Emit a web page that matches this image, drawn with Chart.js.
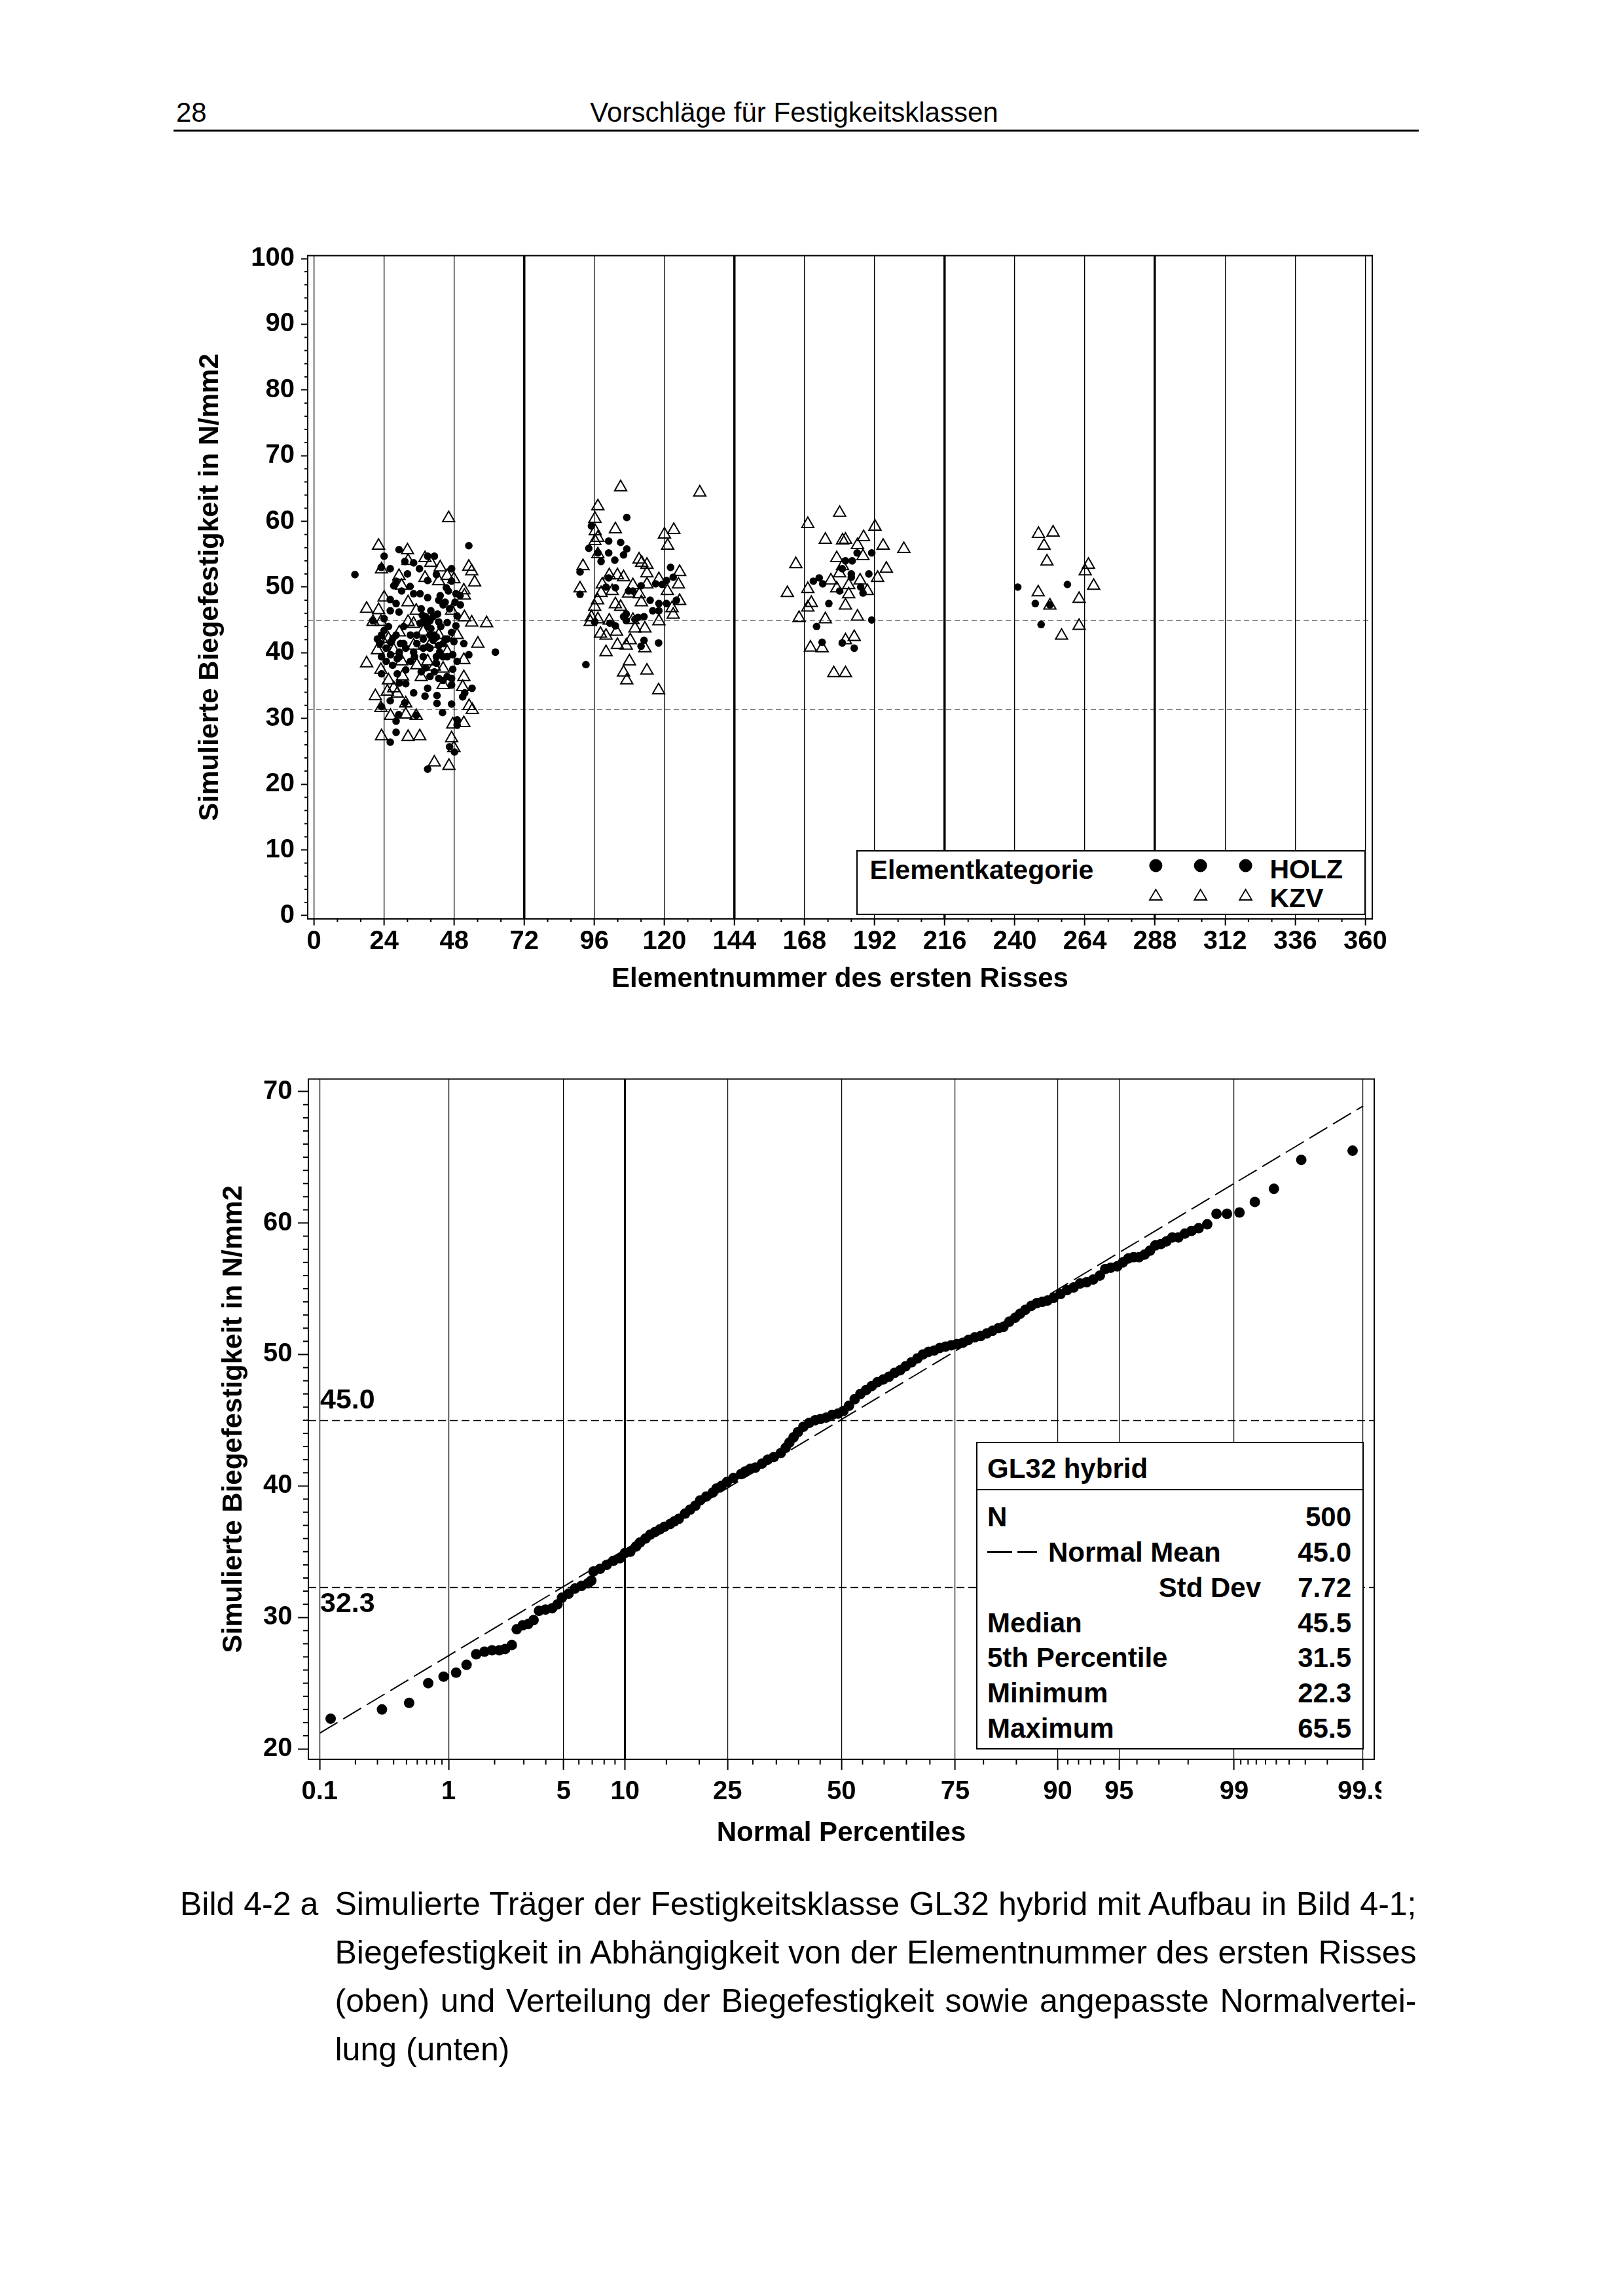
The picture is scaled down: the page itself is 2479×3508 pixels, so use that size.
<!DOCTYPE html>
<html>
<head>
<meta charset="utf-8">
<title>Bild 4-2 a</title>
<script src="https://cdn.jsdelivr.net/npm/chart.js@4.4.1/dist/chart.umd.min.js"></script>
<style>
html, body { margin: 0; padding: 0; background: #fff; }
body { width: 2479px; height: 3508px; position: relative; overflow: hidden; font-family: "Liberation Sans", Arial, sans-serif; color: #000; }
.abs { position: absolute; }
canvas { position: absolute; }
.hdr { position: absolute; font-size: 42px; line-height: 42px; white-space: nowrap; }
.cap { position: absolute; font-size: 50px; line-height: 74px; white-space: nowrap; }
.just { text-align: justify; text-align-last: justify; }
.b41 { position: absolute; font-size: 41px; line-height: 41px; font-weight: bold; white-space: nowrap; }
.b42 { position: absolute; font-size: 42px; line-height: 42px; font-weight: bold; white-space: nowrap; }
.box { position: absolute; border: 2px solid #000; box-sizing: border-box; background: #fff; }
</style>
</head>
<body>

<div class="hdr" style="left:269px; top:150.5px;">28</div>
<div class="hdr" style="left:713px; top:150.5px; width:1000px; text-align:center;">Vorschläge für Festigkeitsklassen</div>
<div class="abs" style="left:265px; top:197.5px; width:1902px; height:3px; background:#000;"></div>

<canvas id="chart-top" width="2479" height="1260" style="left:0; top:300px; width:2479px; height:1260px;"></canvas>
<canvas id="chart-bottom" width="2110" height="1260" style="left:0; top:1580px; width:2110px; height:1260px;"></canvas>

<!-- legend of the upper chart -->
<div class="box" style="left:1308px; top:1299px; width:778px; height:99px;"></div>
<div class="b41" style="left:1328.6px; top:1308.6px;">Elementkategorie</div>
<svg class="abs" style="left:1740px; top:1300px;" width="190" height="90">
  <circle cx="25.4" cy="22.5" r="10" fill="#000"/>
  <circle cx="93.7" cy="22.5" r="10" fill="#000"/>
  <circle cx="162.6" cy="22.5" r="10" fill="#000"/>
  <polygon points="25.4,59 15.9,75 34.9,75" fill="none" stroke="#000" stroke-width="1.8"/>
  <polygon points="93.7,59 84.2,75 103.2,75" fill="none" stroke="#000" stroke-width="1.8"/>
  <polygon points="162.6,59 153.1,75 172.1,75" fill="none" stroke="#000" stroke-width="1.8"/>
</svg>
<div class="b41" style="left:1939.5px; top:1308px;">HOLZ</div>
<div class="b41" style="left:1939.5px; top:1351.5px;">KZV</div>

<!-- statistics box of the lower chart -->
<div class="box" style="left:1491px; top:2203px; width:592px; height:470px;"></div>
<div class="abs" style="left:1491px; top:2275px; width:592px; height:2px; background:#000;"></div>
<div class="b42" style="left:1508px; top:2222.8px;">GL32 hybrid</div>
<svg class="abs" style="left:1500px; top:2360px;" width="100" height="24">
  <line x1="8" y1="11.6" x2="84" y2="11.6" stroke="#000" stroke-width="3" stroke-dasharray="38 8"/>
</svg>
<div id="stats"></div>

<!-- caption -->
<div class="cap" style="left:275px; top:2871.5px;">Bild 4-2 a</div>
<div class="cap just" style="left:511.5px; top:2871.5px; width:1652px;">Simulierte Träger der Festigkeitsklasse GL32 hybrid mit Aufbau in Bild 4-1;</div>
<div class="cap just" style="left:511.5px; top:2945.5px; width:1652px;">Biegefestigkeit in Abhängigkeit von der Elementnummer des ersten Risses</div>
<div class="cap just" style="left:511.5px; top:3019.5px; width:1652px;">(oben) und Verteilung der Biegefestigkeit sowie angepasste Normalvertei-</div>
<div class="cap" style="left:511.5px; top:3093.5px;">lung (unten)</div>

<script>
const FONT = '"Liberation Sans", Arial, sans-serif'

// ---- upper chart: strength against element number of first crack ----
const elementTicks = [0, 24, 48, 72, 96, 120, 144, 168, 192, 216, 240, 264, 288, 312, 336, 360]
const strengthTicksTop = [0, 10, 20, 30, 40, 50, 60, 70, 80, 90, 100]
const refLinesTop = [45.0, 31.5]

// HOLZ = filled dots, [element number, strength]
const holzPoints = [
    [14.0, 51.9], [53.0, 56.3], [29.1, 55.7], [24.0, 54.7], [38.9, 54.7], [41.2, 54.7], [31.1, 53.9], [34.1, 53.7],
    [23.0, 53.0], [26.1, 52.8], [36.1, 52.8], [47.1, 52.8], [32.0, 52.0], [41.9, 51.9], [38.9, 51.0], [28.1, 50.9],
    [27.3, 50.2], [32.9, 50.1], [47.1, 50.9], [45.3, 49.9], [30.0, 49.4], [34.1, 49.0], [36.3, 49.0], [43.2, 48.7],
    [50.0, 48.7], [26.1, 48.1], [38.9, 48.4], [28.1, 47.5], [48.3, 47.7], [50.1, 47.3], [44.2, 47.3], [40.0, 46.4],
    [26.1, 46.4], [29.1, 46.2], [37.1, 45.7], [42.3, 45.9], [49.0, 45.6], [20.1, 44.9], [24.0, 45.2], [37.4, 44.7],
    [45.6, 44.6], [40.0, 43.7], [43.4, 44.0], [23.1, 42.7], [28.1, 42.7], [47.1, 43.1], [37.4, 42.1], [40.8, 41.9],
    [21.7, 42.1], [51.3, 41.4], [30.7, 41.4], [26.2, 41.6], [38.9, 40.9], [42.7, 41.1], [34.1, 40.1], [29.2, 40.1],
    [62.1, 40.1], [53.0, 39.7], [23.1, 39.4], [44.2, 39.4], [49.0, 38.7], [26.9, 38.1], [38.2, 37.7], [47.5, 37.5],
    [23.1, 36.8], [39.7, 36.4], [42.7, 36.1], [45.6, 36.4], [31.4, 35.3], [47.1, 35.1], [54.1, 34.6], [38.9, 34.6],
    [34.1, 33.9], [51.6, 33.9], [38.0, 33.4], [42.1, 33.5], [50.9, 33.3], [26.1, 32.7], [31.1, 32.4], [42.1, 32.3],
    [47.1, 32.2], [23.1, 31.8], [44.0, 30.9], [29.0, 30.6], [35.0, 30.5], [28.1, 29.6], [49.0, 29.8], [49.0, 29.0],
    [28.1, 27.9], [26.1, 26.4], [46.4, 25.7], [48.1, 24.9], [38.9, 22.3], [29.2, 35.4], [25.5, 44.0], [30.7, 44.0],
    [35.2, 42.7], [41.2, 42.7], [44.9, 42.1], [24.7, 40.7], [28.5, 39.1], [33.0, 38.7], [37.4, 39.4], [41.9, 38.4],
    [45.6, 39.4], [47.9, 41.7], [42.7, 44.7], [36.7, 46.7], [46.4, 46.7], [42.7, 48.0],
    [38.2, 45.5], [39.7, 44.9], [36.3, 44.5], [38.9, 44.0], [41.9, 42.4], [44.2, 41.4], [39.7, 40.7], [45.6, 42.1],
    [43.0, 40.1], [27.0, 42.2], [29.6, 41.4], [31.4, 40.7], [26.2, 39.7], [29.2, 39.4], [24.7, 38.7], [36.7, 37.1],
    [41.2, 37.1], [44.2, 35.8], [47.1, 36.1], [46.0, 49.4], [48.6, 49.0], [44.9, 47.7], [40.8, 45.5], [33.0, 42.7],
    [37.4, 40.7], [34.4, 39.4], [41.9, 39.4], [31.4, 37.4], [28.5, 36.8], [24.0, 43.4], [22.5, 41.4], [47.5, 39.7],
    [48.6, 44.1], [35.2, 41.4], [39.7, 42.7],
    [107.1, 60.6], [95.0, 59.3], [100.9, 57.0], [105.0, 56.8], [107.1, 55.8], [94.1, 55.9], [100.9, 55.2], [106.0, 54.9],
    [97.2, 55.2], [98.3, 53.9], [103.0, 54.1], [122.1, 53.0], [91.1, 52.3], [100.9, 51.4], [123.0, 51.5], [120.7, 51.0],
    [117.0, 50.5], [119.2, 50.4], [100.0, 50.0], [103.2, 49.9], [112.0, 50.2], [107.7, 49.4], [109.2, 49.4], [91.1, 48.9],
    [124.1, 48.0], [115.1, 48.0], [118.1, 47.5], [120.7, 47.5], [116.0, 46.4], [118.1, 46.4], [106.9, 45.9], [106.0, 45.5],
    [111.0, 45.4], [113.0, 45.5], [109.9, 45.1], [106.9, 44.9], [96.1, 44.7], [101.3, 44.5], [103.2, 44.1], [113.0, 41.9],
    [112.0, 41.0], [118.0, 41.5], [93.1, 38.2],
    [186.0, 55.2], [191.0, 55.2], [182.0, 54.0], [184.3, 54.0], [180.9, 52.8], [184.0, 52.0], [190.0, 52.0], [173.0, 51.4],
    [171.0, 50.9], [174.2, 50.5], [184.0, 51.5], [187.2, 50.0], [188.0, 49.1], [180.0, 49.4], [176.3, 47.5], [191.0, 45.0],
    [172.1, 44.0], [174.0, 41.6], [180.9, 41.5], [185.0, 40.7],
    [241.0, 50.0], [258.0, 50.4], [247.0, 47.5], [252.0, 47.3], [249.0, 44.3]
]

// KZV = open triangles, [element number, strength]
const kzvPoints = [
    [46.1, 60.5], [22.1, 56.3], [32.0, 55.6], [38.0, 54.4], [40.0, 53.7], [32.2, 54.0], [43.2, 53.0], [23.1, 52.7],
    [53.0, 53.1], [54.0, 52.4], [29.1, 51.7], [38.0, 51.4], [45.6, 51.7], [47.9, 51.2], [55.0, 50.7], [42.7, 50.9],
    [30.0, 50.2], [51.3, 49.5], [51.5, 48.7], [24.0, 48.4], [32.2, 47.7], [18.0, 46.7], [22.1, 46.5], [35.0, 46.4],
    [47.1, 46.4], [51.5, 45.4], [54.0, 44.6], [59.1, 44.5], [20.2, 44.7], [22.9, 44.7], [32.2, 44.7], [34.1, 44.4],
    [29.2, 43.1], [37.4, 43.2], [49.0, 42.7], [56.1, 41.4], [24.0, 41.4], [21.7, 40.4], [27.3, 40.4], [34.1, 41.1],
    [40.0, 41.4], [45.6, 40.1], [18.0, 38.4], [22.9, 37.4], [35.2, 38.1], [38.9, 38.7], [41.2, 37.9], [51.3, 38.9],
    [25.5, 35.8], [30.3, 36.4], [36.7, 36.3], [51.3, 36.3], [27.3, 34.6], [50.9, 34.8], [21.0, 33.4], [25.1, 34.1],
    [44.2, 35.1], [31.4, 32.3], [53.1, 31.9], [22.9, 31.6], [54.2, 31.3], [26.2, 30.4], [31.4, 30.6], [35.0, 30.4],
    [47.5, 29.1], [51.3, 29.3], [23.1, 27.3], [32.2, 27.2], [36.2, 27.3], [47.1, 27.0], [47.9, 25.5], [41.2, 23.3],
    [46.2, 22.8], [28.5, 33.8], [42.7, 42.7], [44.2, 37.6], [25.5, 42.1], [30.0, 38.7],
    [105.0, 65.2], [132.1, 64.4], [97.2, 62.3], [96.2, 60.4], [103.2, 58.8], [96.3, 58.5], [97.2, 57.5], [96.2, 57.0],
    [120.0, 58.0], [123.2, 58.7], [121.1, 56.3], [97.2, 55.0], [111.3, 54.2], [112.2, 53.7], [114.0, 53.4], [92.1, 53.2],
    [114.0, 52.1], [125.2, 52.3], [101.1, 51.8], [103.9, 51.8], [106.0, 51.5], [118.1, 51.2], [124.8, 50.4], [109.2, 50.3],
    [98.7, 50.4], [91.1, 49.8], [114.0, 50.4], [121.0, 49.4], [98.3, 49.1], [102.1, 49.4], [107.7, 49.0], [111.4, 48.9],
    [125.2, 47.9], [97.1, 48.0], [96.1, 47.0], [103.2, 47.4], [105.0, 47.0], [112.1, 47.7], [122.6, 46.8], [123.0, 45.8],
    [95.0, 45.4], [97.2, 45.1], [94.6, 44.7], [101.1, 44.9], [118.1, 44.8], [109.2, 45.0], [109.9, 43.7], [113.3, 43.7],
    [103.6, 43.2], [98.1, 42.9], [100.0, 42.6], [108.3, 41.9], [103.9, 41.2], [113.3, 40.7], [100.0, 40.1], [106.9, 41.1],
    [108.0, 38.7], [114.0, 37.3], [106.0, 37.0], [107.1, 35.8], [118.0, 34.3],
    [180.0, 61.3], [169.1, 59.6], [192.1, 59.2], [175.1, 57.2], [181.0, 57.1], [182.0, 57.2], [188.2, 57.6], [186.1, 56.4],
    [194.9, 56.3], [202.0, 55.8], [179.0, 54.4], [188.0, 54.7], [165.0, 53.5], [181.0, 53.2], [196.0, 52.8], [180.0, 52.1],
    [177.0, 51.0], [187.0, 51.0], [193.0, 51.4], [183.1, 50.3], [179.0, 49.8], [189.5, 49.4], [162.1, 49.1], [169.1, 49.7],
    [183.1, 48.9], [170.3, 47.6], [169.1, 46.9], [182.0, 47.2], [166.1, 45.3], [175.1, 45.1], [186.1, 45.5], [185.0, 42.4],
    [182.0, 41.9], [170.0, 40.8], [174.0, 40.7], [178.0, 36.9], [182.0, 36.9],
    [248.1, 58.1], [253.1, 58.3], [250.0, 56.3], [251.0, 53.9], [265.2, 53.4], [264.1, 52.4], [267.0, 50.2], [248.0, 49.2],
    [262.0, 48.2], [252.0, 47.2], [262.0, 44.1], [256.0, 42.6]
]

// ---- lower chart: normal probability plot ----
const percentileTicks = [0.1, 1, 5, 10, 25, 50, 75, 90, 95, 99, 99.9]
const percentileLabels = ['0.1', '1', '5', '10', '25', '50', '75', '90', '95', '99', '99.9']
const percentileMinor = [0.2, 0.3, 0.4, 0.5, 0.6, 0.7, 0.8, 0.9, 2, 3, 4, 6, 7, 8, 9, 15, 20, 30, 35, 40, 45,
    55, 60, 65, 70, 80, 85, 91, 92, 93, 94, 96, 97, 98, 99.1, 99.2, 99.3, 99.4, 99.5, 99.6, 99.7, 99.8]
const strengthTicksBottom = [20, 30, 40, 50, 60, 70]
const refLinesBottom = [45.0, 32.3]

// [normal score (quantile of the plotting position), strength]
const probabilityPoints = [
    [-3.025, 22.3], [-2.721, 23.0], [-2.560, 23.5], [-2.447, 25.0], [-2.356, 25.5], [-2.282, 25.8], [-2.220, 26.4],
    [-2.163, 27.2], [-2.114, 27.4], [-2.069, 27.5], [-2.026, 27.5], [-1.991, 27.6], [-1.952, 27.9], [-1.923, 29.1],
    [-1.888, 29.4], [-1.855, 29.5], [-1.823, 29.8], [-1.791, 30.5], [-1.752, 30.6], [-1.713, 30.7], [-1.681, 31.0],
    [-1.655, 31.5], [-1.616, 31.8], [-1.578, 32.2], [-1.539, 32.4], [-1.500, 32.6], [-1.481, 32.8], [-1.468, 33.5],
    [-1.429, 33.7], [-1.390, 34.0], [-1.351, 34.3], [-1.312, 34.5], [-1.282, 34.9], [-1.250, 35.0], [-1.216, 35.4],
    [-1.193, 35.7], [-1.160, 36.0], [-1.132, 36.3], [-1.104, 36.5], [-1.075, 36.7], [-1.048, 36.9], [-1.015, 37.1],
    [-0.990, 37.3], [-0.963, 37.5], [-0.926, 37.9], [-0.896, 38.2], [-0.865, 38.5], [-0.837, 38.9], [-0.800, 39.2],
    [-0.762, 39.5], [-0.740, 39.8], [-0.710, 40.0], [-0.678, 40.3], [-0.640, 40.6], [-0.594, 40.9], [-0.570, 41.1],
    [-0.540, 41.3], [-0.509, 41.4], [-0.470, 41.7], [-0.436, 42.0], [-0.400, 42.2], [-0.359, 42.5], [-0.330, 42.9],
    [-0.308, 43.3], [-0.283, 43.7], [-0.257, 44.1], [-0.225, 44.5], [-0.190, 44.8], [-0.155, 45.0], [-0.123, 45.1],
    [-0.090, 45.2], [-0.055, 45.4], [-0.020, 45.5], [0.012, 45.7], [0.045, 46.1], [0.079, 46.6], [0.113, 47.0],
    [0.147, 47.3], [0.180, 47.6], [0.214, 47.9], [0.248, 48.1], [0.281, 48.3], [0.315, 48.6], [0.348, 48.8],
    [0.380, 49.1], [0.415, 49.4], [0.450, 49.7], [0.483, 50.0], [0.516, 50.2], [0.550, 50.3], [0.583, 50.5],
    [0.617, 50.6], [0.650, 50.7], [0.684, 50.8], [0.720, 50.9], [0.752, 51.1], [0.790, 51.3], [0.825, 51.4],
    [0.861, 51.6], [0.895, 51.8], [0.930, 52.0], [0.960, 52.1], [0.995, 52.5], [1.030, 52.8], [1.059, 53.1],
    [1.090, 53.4], [1.125, 53.7], [1.157, 53.9], [1.190, 54.0], [1.221, 54.1], [1.256, 54.3], [1.298, 54.6],
    [1.337, 54.9], [1.376, 55.1], [1.414, 55.4], [1.453, 55.5], [1.492, 55.7], [1.531, 56.0], [1.563, 56.5],
    [1.595, 56.6], [1.634, 56.7], [1.667, 57.0], [1.699, 57.3], [1.731, 57.4], [1.763, 57.4], [1.796, 57.6],
    [1.828, 57.9], [1.860, 58.3], [1.893, 58.4], [1.925, 58.6], [1.960, 58.9], [1.996, 58.9], [2.035, 59.2],
    [2.074, 59.4], [2.116, 59.6], [2.167, 59.9], [2.222, 60.7], [2.284, 60.7], [2.358, 60.8], [2.449, 61.6],
    [2.562, 62.6], [2.724, 64.8], [3.028, 65.5]
]

// fitted normal line, drawn from the 0.1 to the 99.9 percentile
const fitLinePercent = [0.1, 99.9]
const fitLineStrength = [21.2, 68.9]

const statLabels = ['N', 'Normal Mean', 'Std Dev', 'Median', '5th Percentile', 'Minimum', 'Maximum']
const statValues = ['500', '45.0', '7.72', '45.5', '31.5', '22.3', '65.5']


// Inverse of the standard normal distribution (Acklam), used for the probability axis
function probit (p) {
    const a = [-3.969683028665376e+01, 2.209460984245205e+02, -2.759285104469687e+02, 1.383577518672690e+02, -3.066479806614716e+01, 2.506628277459239e+00]
    const b = [-5.447609879822406e+01, 1.615858368580409e+02, -1.556989798598866e+02, 6.680131188771972e+01, -1.328068155288572e+01]
    const c = [-7.784894002430293e-03, -3.223964580411365e-01, -2.400758277161838e+00, -2.549732539343734e+00, 4.374664141464968e+00, 2.938163982698783e+00]
    const d = [7.784695709041462e-03, 3.224671290700398e-01, 2.445134137142996e+00, 3.754408661907416e+00]
    const pl = 0.02425
    let q, r
    if (p < pl) {
        q = Math.sqrt(-2 * Math.log(p))
        return (((((c[0] * q + c[1]) * q + c[2]) * q + c[3]) * q + c[4]) * q + c[5]) / ((((d[0] * q + d[1]) * q + d[2]) * q + d[3]) * q + 1)
    }
    if (p > 1 - pl) {
        q = Math.sqrt(-2 * Math.log(1 - p))
        return -(((((c[0] * q + c[1]) * q + c[2]) * q + c[3]) * q + c[4]) * q + c[5]) / ((((d[0] * q + d[1]) * q + d[2]) * q + d[3]) * q + 1)
    }
    q = p - 0.5
    r = q * q
    return (((((a[0] * r + a[1]) * r + a[2]) * r + a[3]) * r + a[4]) * r + a[5]) * q / (((((b[0] * r + b[1]) * r + b[2]) * r + b[3]) * r + b[4]) * r + 1)
}

// Draws dashed reference lines, the closed frame and the minor tick marks
const sasFrame = {
    id: 'sasFrame',
    beforeDatasetsDraw (chart, args, opts) {
        const { ctx, chartArea: a, scales } = chart
        ctx.save()
        ctx.strokeStyle = '#000'
        ctx.lineWidth = opts.refWidth
        ctx.setLineDash(opts.refDash)
        opts.refLines.forEach(v => {
            const y = Math.round(scales.y.getPixelForValue(v)) + 0.5
            ctx.beginPath()
            ctx.moveTo(a.left, y)
            ctx.lineTo(a.right, y)
            ctx.stroke()
        })
        ctx.setLineDash([])
        ctx.fillStyle = '#000'
        ctx.font = 'bold 43px ' + FONT
        ctx.textBaseline = 'middle'
        ;(opts.refLabels || []).forEach(l => {
            ctx.fillText(l.text, a.left + 18, scales.y.getPixelForValue(l.value) + l.dy)
        })
        ctx.restore()
    },
    afterDraw (chart, args, opts) {
        const { ctx, chartArea: a, scales } = chart
        ctx.save()
        ctx.strokeStyle = '#000'
        ctx.lineWidth = 2
        ctx.strokeRect(a.left, a.top, a.right - a.left, a.bottom - a.top)
        const xMinor = opts.xMinor || []
        xMinor.forEach(v => {
            const x = scales.x.getPixelForValue(v)
            ctx.beginPath()
            ctx.moveTo(x, a.bottom)
            ctx.lineTo(x, a.bottom + opts.minorLen)
            ctx.stroke()
        })
        const yMinor = opts.yMinor || []
        yMinor.forEach(v => {
            const y = scales.y.getPixelForValue(v)
            ctx.beginPath()
            ctx.moveTo(a.left, y)
            ctx.lineTo(a.left - opts.minorLen, y)
            ctx.stroke()
        })
        ctx.restore()
    }
}

function tickFont (size) {
    return { family: FONT, size: size, weight: 'bold', lineHeight: 1 }
}

// minor ticks between the labelled ticks
function minorBetween (ticks, step) {
    const out = []
    for (let i = 0; i < ticks.length - 1; i++) {
        for (let v = ticks[i] + step; v < ticks[i + 1] - 1e-9; v += step) out.push(v)
    }
    return out
}

// ---- upper chart ----
new Chart(document.getElementById('chart-top'), {
    type: 'scatter',
    data: {
        datasets: [{
            label: 'HOLZ',
            data: holzPoints.map(p => ({ x: p[0], y: p[1] })),
            pointStyle: 'circle',
            pointRadius: 5.8,
            backgroundColor: '#000',
            borderColor: '#000',
            borderWidth: 0
        }, {
            label: 'KZV',
            data: kzvPoints.map(p => ({ x: p[0], y: p[1] })),
            pointStyle: 'triangle',
            pointRadius: 10.6,
            backgroundColor: 'rgba(0,0,0,0)',
            borderColor: '#000',
            borderWidth: 2
        }]
    },
    options: {
        responsive: false,
        animation: false,
        events: [],
        layout: { padding: { left: 0, right: 383, top: 90.6, bottom: 0 } },
        plugins: {
            legend: { display: false },
            tooltip: { enabled: false },
            sasFrame: {
                refLines: refLinesTop, refWidth: 1.2, refDash: [8, 5],
                xMinor: minorBetween(elementTicks, 8),
                yMinor: minorBetween(strengthTicksTop, 2),
                minorLen: 5
            }
        },
        scales: {
            x: {
                type: 'linear',
                min: -2.17,
                max: 362.4,
                afterBuildTicks: s => { s.ticks = elementTicks.map(v => ({ value: v })) },
                afterFit: s => { s.height = 156; s.paddingLeft = 0; s.paddingRight = 0 },
                grid: {
                    color: '#000',
                    lineWidth: c => (c.tick && c.tick.value % 72 === 0 && c.tick.value > 0 && c.tick.value < 360) ? 3.5 : 1.3,
                    drawTicks: true, tickLength: 10, tickWidth: 2, tickColor: '#000'
                },
                border: { display: true, color: '#000', width: 2 },
                ticks: { color: '#000', font: tickFont(40), padding: 5, maxRotation: 0, autoSkip: false, callback: v => String(v) },
                title: { display: true, text: 'Elementnummer des ersten Risses', color: '#000', font: tickFont(42), padding: { top: 0, bottom: 43 } }
            },
            y: {
                type: 'linear',
                min: -0.5,
                max: 100.44,
                afterBuildTicks: s => { s.ticks = strengthTicksTop.map(v => ({ value: v })) },
                afterFit: s => { s.width = 470; s.paddingTop = 0; s.paddingBottom = 0 },
                grid: { drawOnChartArea: false, color: '#000', drawTicks: true, tickLength: 10, tickWidth: 2, tickColor: '#000' },
                border: { display: true, color: '#000', width: 2 },
                ticks: { color: '#000', font: tickFont(40), padding: 10, autoSkip: false, callback: v => String(v) },
                title: { display: true, text: 'Simulierte Biegefestigkeit in N/mm2', color: '#000', font: tickFont(42), padding: { top: 300, bottom: 0 } }
            }
        }
    },
    plugins: [sasFrame]
})

// ---- lower chart ----
new Chart(document.getElementById('chart-bottom'), {
    type: 'scatter',
    data: {
        datasets: [{
            label: 'Normal',
            type: 'line',
            data: fitLinePercent.map((p, i) => ({ x: probit(p / 100), y: fitLineStrength[i] })),
            borderColor: '#000',
            borderWidth: 2,
            borderDash: [32, 10],
            pointRadius: 0,
            fill: false
        }, {
            label: 'Biegefestigkeit',
            data: probabilityPoints.map(p => ({ x: p[0], y: p[1] })),
            pointStyle: 'circle',
            pointRadius: 8,
            backgroundColor: '#000',
            borderColor: '#000',
            borderWidth: 0
        }]
    },
    options: {
        responsive: false,
        animation: false,
        events: [],
        layout: { padding: { left: 0, right: 11, top: 68.6, bottom: 0 } },
        plugins: {
            legend: { display: false },
            tooltip: { enabled: false },
            sasFrame: {
                refLines: refLinesBottom, refWidth: 1.3, refDash: [12, 6],
                refLabels: [{ text: '45.0', value: refLinesBottom[0], dy: -30 }, { text: '32.3', value: refLinesBottom[1], dy: 26 }],
                xMinor: percentileMinor.map(p => probit(p / 100)),
                yMinor: minorBetween(strengthTicksBottom, 1),
                minorLen: 8
            }
        },
        scales: {
            x: {
                type: 'linear',
                min: -3.157,
                max: 3.156,
                afterBuildTicks: s => { s.ticks = percentileTicks.map(p => ({ value: probit(p / 100) })) },
                afterFit: s => { s.height = 152; s.paddingLeft = 0; s.paddingRight = 0 },
                grid: {
                    color: '#000',
                    lineWidth: c => (percentileTicks[c.index] === 10 ? 3 : 1.2),
                    drawTicks: true, tickLength: 16, tickWidth: 2, tickColor: '#000'
                },
                border: { display: true, color: '#000', width: 2 },
                ticks: { color: '#000', font: tickFont(40), padding: 13.5, maxRotation: 0, autoSkip: false, callback: (v, i) => percentileLabels[i] },
                title: { display: true, text: 'Normal Percentiles', color: '#000', font: tickFont(42), padding: { top: 0, bottom: 18 } }
            },
            y: {
                type: 'linear',
                min: 19.21,
                max: 70.95,
                afterBuildTicks: s => { s.ticks = strengthTicksBottom.map(v => ({ value: v })) },
                afterFit: s => { s.width = 471; s.paddingTop = 0; s.paddingBottom = 0 },
                grid: { drawOnChartArea: false, color: '#000', drawTicks: true, tickLength: 16, tickWidth: 2, tickColor: '#000' },
                border: { display: true, color: '#000', width: 2 },
                ticks: { color: '#000', font: tickFont(40), padding: 8.6, autoSkip: false, callback: v => String(v) },
                title: { display: true, text: 'Simulierte Biegefestigkeit in N/mm2', color: '#000', font: tickFont(42), padding: { top: 336, bottom: 0 } }
            }
        }
    },
    plugins: [sasFrame]
})

// ---- statistics box text ----
const statRows = [2317.4, 2371.6, 2425, 2479.2, 2532.6, 2586.8, 2640.3]
const stats = document.getElementById('stats')
statLabels.forEach((label, i) => {
    const t = document.createElement('div')
    t.className = 'b42'
    t.textContent = label
    t.style.top = (statRows[i] - 20.5) + 'px'
    if (label === 'Std Dev') {
        t.style.left = '1526px'
        t.style.width = '400px'
        t.style.textAlign = 'right'
    } else {
        t.style.left = (label === 'Normal Mean' ? 1601 : 1508) + 'px'
    }
    stats.appendChild(t)

    const v = document.createElement('div')
    v.className = 'b42'
    v.textContent = statValues[i]
    v.style.top = (statRows[i] - 20.5) + 'px'
    v.style.left = '1864px'
    v.style.width = '200px'
    v.style.textAlign = 'right'
    stats.appendChild(v)
})
</script>
</body>
</html>
